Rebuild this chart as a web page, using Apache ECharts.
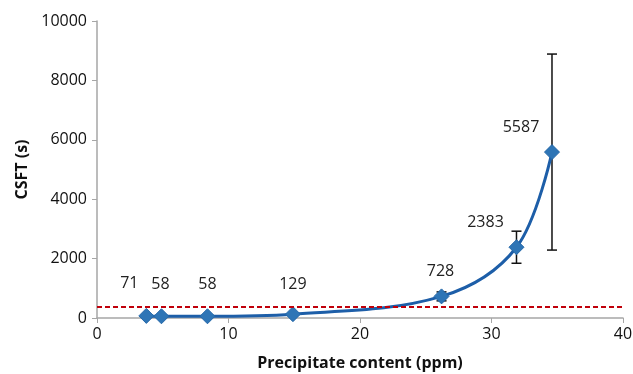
<html>
<head>
<meta charset="utf-8">
<script src="https://cdn.jsdelivr.net/npm/echarts@6/dist/echarts.min.js"></script>
<style>
  body { margin: 0; background: #fff; }
  #chart-main { width: 633px; height: 374px; }
</style>
</head>
<body>
<div id="chart-main"></div>

<script type="text/javascript">
	// data
	var content = [3.75, 4.9, 8.4, 14.9, 26.2, 31.9, 34.6];   // ppm
	var csft = [71, 58, 58, 129, 728, 2383, 5587];           // s
	var csftErr = [0, 0, 0, 0, 150, 540, 3300];              // +/- s
	var threshold = 370;
	var xTicks = [0, 10, 20, 30, 40];
	var yTicks = [0, 2000, 4000, 6000, 8000, 10000];

	// label placement relative to each point (layout only)
	var labelShift = [[-17, -32], [-1, -32], [0, -32], [0, -30], [-1, -25], [-31, -25], [-31, -25]];

	var myChart = echarts.init(document.getElementById('chart-main'));
	var font = '"Open Sans", "Liberation Sans", sans-serif';

	var points = content.map(function (x, i) {
		return {
			value: [x, csft[i]],
			label: { offset: labelShift[i] }
		};
	});
	var bars = content.map(function (x, i) {
		return [x, csft[i] - csftErr[i], csft[i] + csftErr[i]];
	}).filter(function (d, i) { return csftErr[i] > 0; });

	var option = {
		animation: false,
		grid: { left: 97, right: 10, top: 21, bottom: 56, outerBoundsMode: 'none' },
		xAxis: {
			type: 'value',
			min: xTicks[0], max: xTicks[xTicks.length - 1], interval: 10,
			name: 'Precipitate content (ppm)',
			nameLocation: 'middle', nameGap: 37,
			nameTextStyle: { fontFamily: font, fontSize: 16, fontWeight: 'bold', color: '#111' },
			axisLine: { lineStyle: { color: '#a6a6a6', width: 1.5 } },
			axisTick: { show: true, length: 5, lineStyle: { color: '#a6a6a6' } },
			axisLabel: { fontFamily: font, fontSize: 16, color: '#111', margin: 8 },
			splitLine: { show: false }
		},
		yAxis: {
			type: 'value',
			min: yTicks[0], max: yTicks[yTicks.length - 1], interval: 2000,
			name: 'CSFT (s)',
			nameLocation: 'middle', nameGap: 67,
			nameTextStyle: { fontFamily: font, fontSize: 16, fontWeight: 'bold', color: '#111' },
			axisLine: { show: true, lineStyle: { color: '#a6a6a6', width: 1.5 } },
			axisTick: { show: true, length: 5, lineStyle: { color: '#a6a6a6' } },
			axisLabel: { fontFamily: font, fontSize: 16, color: '#111', margin: 10, formatter: function (v) { return String(v); } },
			splitLine: { show: false }
		},
		series: [
			{
				type: 'custom',
				data: bars,
				z: 1,
				renderItem: function (params, api) {
					var top = api.coord([api.value(0), api.value(2)]);
					var bot = api.coord([api.value(0), api.value(1)]);
					var w = 5;
					var st = { stroke: '#111', lineWidth: 1.5 };
					return {
						type: 'group',
						children: [
							{ type: 'line', shape: { x1: top[0], y1: top[1], x2: bot[0], y2: bot[1] }, style: st },
							{ type: 'line', shape: { x1: top[0] - w, y1: top[1], x2: top[0] + w, y2: top[1] }, style: st },
							{ type: 'line', shape: { x1: bot[0] - w, y1: bot[1], x2: bot[0] + w, y2: bot[1] }, style: st }
						]
					};
				}
			},
			{
				type: 'line',
				data: points,
				smooth: 0.35,
				z: 3,
				symbol: 'diamond',
				symbolSize: 15,
				itemStyle: { color: '#2e75b6', borderColor: '#2467a8', borderWidth: 1 },
				lineStyle: { color: '#1d5ea8', width: 3 },
				label: {
					show: true,
					position: 'inside',
					fontFamily: font,
					fontSize: 16,
					color: '#222',
					formatter: function (p) { return p.value[1]; }
				},
				markLine: {
					silent: true,
					symbol: 'none',
					label: { show: false },
					lineStyle: { color: '#c0000a', type: [5, 3], width: 2 },
					data: [{ yAxis: threshold }]
				}
			}
		]
	};

	myChart.setOption(option);
</script>
</body>
</html>
